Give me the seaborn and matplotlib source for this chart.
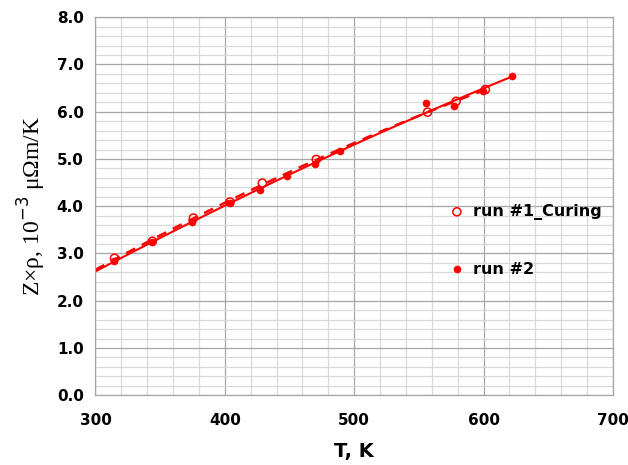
import numpy as np
import pandas as pd
import matplotlib.pyplot as plt
from matplotlib.ticker import MultipleLocator
import seaborn as sns

# Data (T in K, Z*rho in 1e-3 uOhm m/K)
t_run1 = [314.7, 344.0, 375.7, 404.0, 429.0, 470.7, 556.7, 578.8, 601.4]
z_run1 = [2.90, 3.26, 3.75, 4.09, 4.49, 4.99, 5.99, 6.22, 6.47]
t_run2 = [314.0, 343.8, 374.6, 403.7, 427.4, 448.0, 469.9, 489.0, 555.3, 577.0, 599.9, 621.7]
z_run2 = [2.84, 3.24, 3.67, 4.06, 4.34, 4.64, 4.89, 5.17, 6.19, 6.12, 6.43, 6.76]
labels = ['run #1_Curing', 'run #2']

sns.set_style("white")
plt.rcParams['font.family'] = ['DejaVu Sans']
plt.rcParams['text.color'] = 'black'
plt.rcParams['xtick.color'] = 'black'
plt.rcParams['ytick.color'] = 'black'
plt.rcParams['axes.labelcolor'] = 'black'

df1 = pd.DataFrame({'T': t_run1, 'Z': z_run1})
df2 = pd.DataFrame({'T': t_run2, 'Z': z_run2})

# quadratic trend lines like Excel, extended back to 300 K
def trend(df):
    c = np.polyfit(df['T'], df['Z'], 2)
    xs = np.linspace(300, df['T'].max(), 100)
    return pd.DataFrame({'T': xs, 'Z': np.polyval(c, xs)})

fit1 = trend(df1)
fit2 = trend(df2)

fig, ax = plt.subplots(figsize=(6.28, 4.65), dpi=100)
fig.subplots_adjust(left=0.152, right=0.976, top=0.963, bottom=0.15)

ax.set_xlim(300, 700)
ax.set_ylim(0, 8)
ax.xaxis.set_major_locator(MultipleLocator(100))
ax.xaxis.set_minor_locator(MultipleLocator(20))
ax.yaxis.set_major_locator(MultipleLocator(1))
ax.yaxis.set_minor_locator(MultipleLocator(0.2))
ax.grid(which='major', color='#a6a6a6', lw=0.9)
ax.grid(which='minor', color='#d9d9d9', lw=0.9)
ax.set_axisbelow(True)
for s in ax.spines.values():
    s.set_color('#a6a6a6')
    s.set_linewidth(0.9)
ax.tick_params(which='major', direction='out', length=5, color='#a6a6a6',
               labelsize=11, width=0.9, labelcolor='black')
ax.tick_params(which='minor', length=0)
ax.yaxis.set_major_formatter(plt.FormatStrFormatter('%.1f'))

sns.lineplot(data=fit2, x='T', y='Z', ax=ax, color='#ff0000', lw=1.5, legend=False)
sns.lineplot(data=fit1, x='T', y='Z', ax=ax, color='#ff0000', lw=1.8,
             linestyle=(0, (4, 3)), legend=False)
sns.scatterplot(data=df2, x='T', y='Z', ax=ax, color='#ff0000', s=26,
                edgecolor='#ff0000', label=labels[1], zorder=4)
sns.scatterplot(data=df1, x='T', y='Z', ax=ax, facecolor='none', s=34,
                edgecolor='#ff0000', linewidth=1.1, label=labels[0], zorder=5)

handles, lbls = ax.get_legend_handles_labels()
order = [lbls.index(labels[0]), lbls.index(labels[1])]
leg = ax.legend([handles[i] for i in order], [lbls[i] for i in order],
                loc='center left', bbox_to_anchor=(0.683, 0.41), frameon=False,
                borderaxespad=0, borderpad=0, handlelength=1.0,
                labelspacing=2.6, handletextpad=0.5,
                prop={'weight': 'bold', 'size': 11.5})

ax.set_xlabel('T, K', fontsize=14, fontweight='bold', labelpad=10)
ax.set_ylabel('Z×ρ, 10$^{-3}$ μΩm/K', fontsize=17, family='Liberation Serif', labelpad=6)

for lbl in ax.get_xticklabels() + ax.get_yticklabels():
    lbl.set_fontweight('bold')
ax.tick_params(axis='x', pad=8)

fig.savefig('out.png', dpi=100)
